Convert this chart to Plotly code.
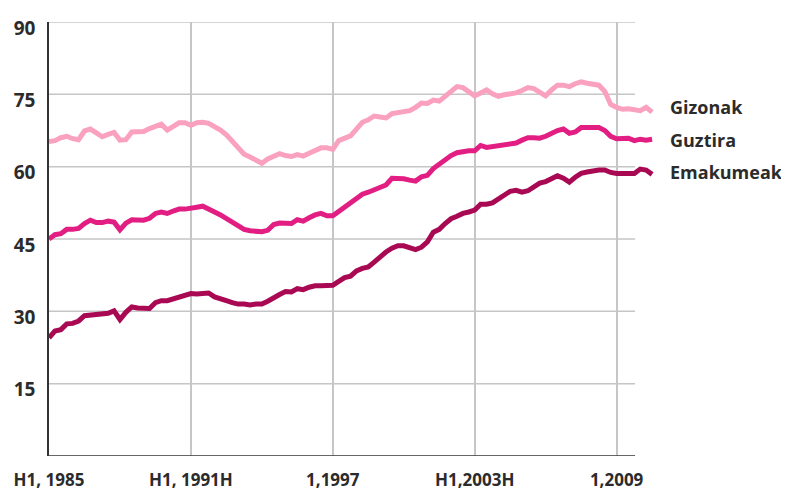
import plotly.graph_objects as go

# quarterly series, 1985 Q1 .. 2010 Q3
START_YEAR = 1985

gizonak = [
    65.2, 65.4, 66.0, 66.3, 65.8, 65.6, 67.4, 67.8, 67.0, 66.2,
    66.7, 67.1, 65.5, 65.6, 67.2, 67.3, 67.3, 67.9, 68.3, 68.8,
    67.6, 68.4, 69.1, 69.1, 68.6, 69.1, 69.2, 69.0, 68.4, 67.6,
    66.6, 65.3, 63.8, 62.6, 62.0, 61.4, 60.7, 61.6, 62.3, 62.7,
    62.3, 62.1, 62.5, 62.2, 62.8, 63.4, 63.9, 63.9, 63.6, 65.4,
    65.8, 66.4, 67.8, 69.2, 69.7, 70.5, 70.3, 70.1, 71.0, 71.2,
    71.3, 71.6, 72.3, 73.2, 73.1, 73.8, 73.6, 74.6, 75.7, 76.6,
    76.4, 75.6, 74.7, 75.3, 75.9, 75.1, 74.6, 74.9, 75.0, 75.3,
    75.8, 76.4, 76.2, 75.5, 74.7, 75.9, 76.9, 76.9, 76.6, 77.2,
    77.6, 77.3, 77.1, 76.9, 75.6, 72.9, 72.3, 71.9, 72.0, 71.8,
    71.6, 72.3, 71.3,
]

guztira = [
    45.0, 45.9, 46.1, 47.0, 47.0, 47.2, 48.2, 48.9, 48.4, 48.4,
    48.7, 48.5, 46.9, 48.3, 49.0, 48.9, 48.9, 49.3, 50.3, 50.6,
    50.3, 50.8, 51.2, 51.2, 51.3, 51.6, 51.8, 51.3, 50.6, 50.0,
    49.2, 48.4, 47.6, 47.0, 46.7, 46.6, 46.5, 46.8, 48.0, 48.3,
    48.2, 48.2, 49.0, 48.7, 49.4, 50.0, 50.3, 49.8, 49.8, 50.7,
    51.3, 52.2, 53.4, 54.3, 54.7, 55.2, 55.6, 56.2, 57.6, 57.6,
    57.5, 57.2, 57.0, 57.9, 58.2, 59.6, 60.6, 61.4, 62.3, 62.9,
    63.2, 63.3, 63.3, 64.4, 64.0, 64.2, 64.4, 64.6, 64.7, 64.9,
    65.5, 66.0, 66.0, 65.9, 66.3, 66.9, 67.5, 67.8, 66.9, 67.2,
    68.1, 68.1, 68.1, 68.1, 67.5, 66.3, 65.8, 65.8, 65.9, 65.4,
    65.7, 65.5, 65.7,
]

emakumeak = [
    24.5, 25.9, 26.2, 27.4, 27.5, 28.0, 29.1, 29.2, 29.2, 29.3,
    29.6, 30.1, 28.3, 29.8, 30.9, 30.7, 30.6, 30.6, 31.8, 32.2,
    32.2, 32.6, 33.0, 33.4, 33.7, 33.6, 33.7, 33.8, 33.0, 32.5,
    32.2, 31.8, 31.5, 31.5, 31.3, 31.5, 31.5, 32.1, 32.9, 33.5,
    34.1, 34.0, 34.7, 34.5, 35.0, 35.3, 35.3, 35.3, 35.4, 36.2,
    37.0, 37.3, 38.4, 38.9, 39.2, 40.2, 41.3, 42.3, 43.1, 43.6,
    43.6, 43.2, 42.8, 43.3, 44.4, 46.4, 47.0, 48.2, 49.2, 49.7,
    50.3, 50.6, 51.0, 52.2, 52.2, 52.5, 53.4, 54.3, 54.9, 55.1,
    54.7, 55.0, 55.8, 56.6, 56.9, 57.4, 58.1, 57.6, 56.8, 57.8,
    58.6, 58.9, 59.2, 59.3, 59.3, 58.8, 58.6, 58.6, 58.6, 58.6,
    59.5, 59.3, 58.4,
]

x_ticks = [1985, 1991, 1997, 2003, 2009]
x_labels = ["H1, 1985", "H1, 1991H", "1,1997", "H1,2003H", "1,2009"]
y_ticks = [15, 30, 45, 60, 75, 90]

series = [
    ("Gizonak", gizonak, "#F9A1BF"),
    ("Guztira", guztira, "#E31E83"),
    ("Emakumeak", emakumeak, "#A90853"),
]

x = [START_YEAR + i / 4 for i in range(len(gizonak))]
grid_end = 2009.78
FONT = "Open Sans"
TEXT = "#2b2b2b"

fig = go.Figure()
for name, vals, color in series:
    fig.add_trace(go.Scatter(
        x=x, y=vals, mode="lines", name=name,
        line=dict(color=color, width=5),
        cliponaxis=False,
    ))

# horizontal gridlines stop short of the series' right end
for v in y_ticks:
    fig.add_shape(type="line", xref="x", yref="y", x0=START_YEAR, x1=grid_end,
                  y0=v, y1=v, line=dict(color="#c6c6c8", width=1.5), layer="below")
fig.add_shape(type="line", xref="x", yref="y", x0=START_YEAR, x1=grid_end,
              y0=0, y1=0, line=dict(color="#333333", width=1.5))

# end labels
label_y = [107, 140, 172]
for (name, vals, color), py in zip(series, label_y):
    fig.add_annotation(
        xref="paper", yref="paper", x=1, xanchor="left", xshift=13,
        y=1 - (py - 22) / 434, yanchor="middle", showarrow=False,
        text=name, font=dict(family=FONT, size=18, color=TEXT, weight="bold"),
    )

# page body has an 8px margin, so the figure is sized to fit inside the window
fig.update_layout(
    width=781, height=484,
    margin=dict(l=41, r=134, t=14, b=36),
    plot_bgcolor="white", paper_bgcolor="white",
    showlegend=False,
    xaxis=dict(
        range=[START_YEAR, START_YEAR + 606 / 23.65],
        tickvals=x_ticks, ticktext=x_labels,
        showgrid=True, gridcolor="#c6c6c8", gridwidth=1.5,
        zeroline=False, showline=False, ticks="", automargin=False,
        ticklabelstandoff=12,
        tickfont=dict(family=FONT, size=17, color=TEXT, weight="bold"),
    ),
    yaxis=dict(
        range=[0, 90], tickvals=y_ticks,
        showgrid=False, zeroline=False, automargin=False,
        showline=True, linecolor="#333333", linewidth=1.5,
        ticks="", ticklabelshift=6, ticklabelstandoff=8,
        tickfont=dict(family=FONT, size=19, color=TEXT, weight="bold"),
    ),
)

fig.write_html("out.html")
